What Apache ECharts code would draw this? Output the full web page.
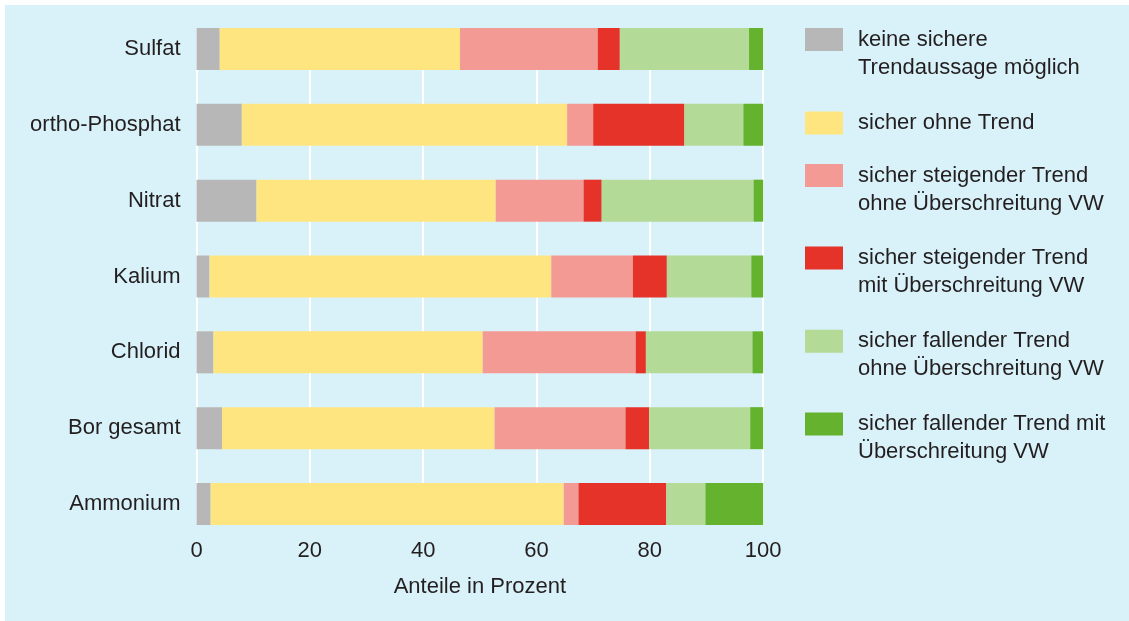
<!DOCTYPE html>
<html>
<head>
<meta charset="utf-8">
<title>Trendaussagen Grundwasser</title>
<script src="https://cdn.jsdelivr.net/npm/echarts@6/dist/echarts.min.js"></script>
<style>
  html, body { margin: 0; padding: 0; background: #ffffff; }
  #frame { position: absolute; left: 5px; top: 5px; width: 1124px; height: 616px; background: #d9f2f9; }
  #chart { position: absolute; left: 0; top: 0; width: 1129px; height: 621px; }
</style>
</head>
<body>
<div id="frame"></div>
<div id="chart"></div>
<script>
// Parameters, top to bottom
const categories = ['Sulfat', 'ortho-Phosphat', 'Nitrat', 'Kalium', 'Chlorid', 'Bor gesamt', 'Ammonium'];

// Share of measuring points per class (percent), one value per parameter
const keineAussage      = [4.1, 8.0, 10.6, 2.3, 3.0, 4.5, 2.5];
const ohneTrend         = [42.4, 57.4, 42.2, 60.3, 47.5, 48.1, 62.3];
const steigendOhneVW    = [24.3, 4.6, 15.5, 14.4, 27.0, 23.1, 2.6];
const steigendMitVW     = [3.9, 16.1, 3.2, 6.0, 1.8, 4.2, 15.5];
const fallendOhneVW     = [22.8, 10.4, 26.8, 14.9, 18.8, 17.8, 6.9];
const fallendMitVW      = [2.5, 3.5, 1.7, 2.1, 1.9, 2.3, 10.2];

const seriesNames = [
  'keine sichere\nTrendaussage möglich',
  'sicher ohne Trend',
  'sicher steigender Trend\nohne Überschreitung VW',
  'sicher steigender Trend\nmit Überschreitung VW',
  'sicher fallender Trend\nohne Überschreitung VW',
  'sicher fallender Trend mit\nÜberschreitung VW'
];
const seriesValues = [keineAussage, ohneTrend, steigendOhneVW, steigendMitVW, fallendOhneVW, fallendMitVW];
const seriesColors = ['#b7b7b7', '#ffe580', '#f39a94', '#e5332a', '#b4da97', '#65b22e'];

const xTicks = { min: 0, max: 100, interval: 20 };
const axisTitle = 'Anteile in Prozent';

const FONT = "'Liberation Sans', Arial, sans-serif";
const TEXT = '#231f20';

const chart = echarts.init(document.getElementById('chart'), null, { renderer: 'canvas' });

// Legend entries: one legend per entry. For two-line entries the swatch sits
// in the upper half of a taller icon box so it lines up with the first text line.
const LH = 28;
const twoLineIcon = 'path://M0,0L0,0M0,2.5L38,2.5L38,25.5L0,25.5ZM38,56L38,56';
const legendCenters = [39.5, 123, 175.5, 258, 341.3, 424];
const legends = seriesNames.map(function (name, i) {
  const twoLines = name.indexOf('\n') >= 0;
  return {
    left: 805,
    top: legendCenters[i] - LH / 2,
    padding: 0,
    orient: 'vertical',
    selectedMode: false,
    icon: twoLines ? twoLineIcon : 'rect',
    itemWidth: 38,
    itemHeight: twoLines ? 56 : 23,
    data: [name],
    textStyle: {
      fontFamily: FONT,
      fontSize: 22,
      color: TEXT,
      lineHeight: LH,
      padding: [0, 0, 0, 10]
    }
  };
});

const option = {
  backgroundColor: 'transparent',
  animation: false,
  textStyle: { fontFamily: FONT },
  legend: legends,
  grid: [
    // bars
    { left: 196.5, right: 365.8, top: 11.1, bottom: 79.1, containLabel: false },
    // white grid lines and tick labels
    { left: 196.5, right: 365.8, top: 28, bottom: 96, containLabel: false }
  ],
  xAxis: [
    {
      gridIndex: 0, type: 'value', min: xTicks.min, max: xTicks.max, interval: xTicks.interval,
      show: false
    },
    {
      gridIndex: 1, type: 'value', min: xTicks.min, max: xTicks.max, interval: xTicks.interval,
      axisLine: { show: false },
      axisTick: { show: false },
      splitLine: { show: true, lineStyle: { color: '#ffffff', width: 2 } },
      axisLabel: { fontFamily: FONT, fontSize: 22, color: TEXT, margin: 15 },
      name: axisTitle,
      nameLocation: 'middle',
      nameGap: 51,
      nameTextStyle: { fontFamily: FONT, fontSize: 22, color: TEXT }
    }
  ],
  yAxis: [
    {
      gridIndex: 0, type: 'category', data: categories, inverse: true,
      axisLine: { show: false },
      axisTick: { show: false },
      splitLine: { show: false },
      axisLabel: { fontFamily: FONT, fontSize: 22, color: TEXT, margin: 16 }
    },
    {
      gridIndex: 1, type: 'value', min: 0, max: 1, show: false
    }
  ],
  series: seriesNames.map(function (name, i) {
    return {
      name: name,
      type: 'bar',
      stack: 'anteile',
      xAxisIndex: 0,
      yAxisIndex: 0,
      barWidth: 42,
      itemStyle: { color: seriesColors[i] },
      emphasis: { disabled: true },
      data: seriesValues[i]
    };
  })
};

chart.setOption(option);
</script>
</body>
</html>
